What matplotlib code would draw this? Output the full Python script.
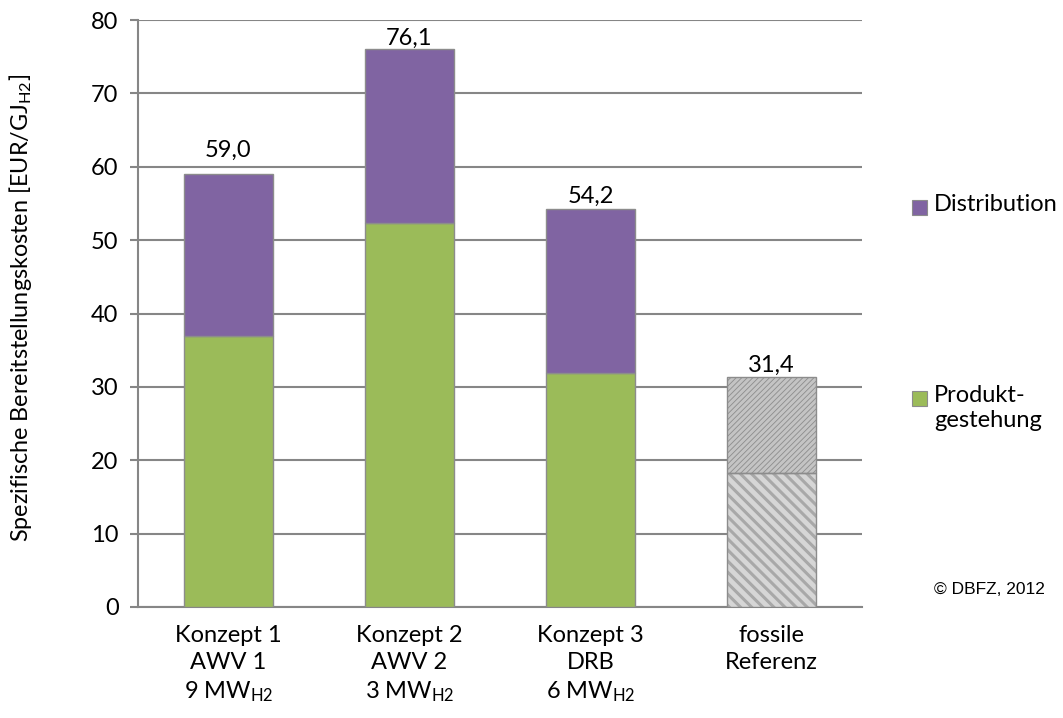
import matplotlib.pyplot as plt
from matplotlib.patches import Rectangle
import numpy as np

plt.rcParams["font.family"] = ["Lato", "DejaVu Sans"]
plt.rcParams["font.size"] = 17
plt.rcParams["hatch.linewidth"] = 2.2

categories = [
    "Konzept 1\nAWV 1\n9 MW$\\mathregular{_{H2}}$",
    "Konzept 2\nAWV 2\n3 MW$\\mathregular{_{H2}}$",
    "Konzept 3\nDRB\n6 MW$\\mathregular{_{H2}}$",
    "fossile\nReferenz",
]
produkt = [37.0, 52.4, 31.9, 18.2]
totals = [59.0, 76.1, 54.2, 31.4]
distribution = [t - p for t, p in zip(totals, produkt)]
total_labels = ["59,0", "76,1", "54,2", "31,4"]

PURPLE = "#8064A2"
GREEN = "#9BBB59"
EDGE = "#8C8C8C"
GRID = "#868686"

fig = plt.figure(figsize=(10.63, 7.18), dpi=100)
ax = fig.add_axes([0.1298, 0.1546, 0.6811, 0.8175])

x = np.arange(len(categories))
w = 0.49
n_real = 3

# real concepts
ax.bar(x[:n_real], produkt[:n_real], w, color=GREEN, edgecolor=EDGE, lw=1, zorder=3)
ax.bar(x[:n_real], distribution[:n_real], w, bottom=produkt[:n_real],
       color=PURPLE, edgecolor=EDGE, lw=1, zorder=3)

# fossil reference, hatched in grey
xf = x[n_real:]
ax.bar(xf, produkt[n_real:], w, color="#D6D6D6", lw=0, zorder=3)
ax.bar(xf, produkt[n_real:], w, color="none", edgecolor="#A8A8A8", hatch="\\\\\\",
       lw=0, zorder=3)
ax.bar(xf, distribution[n_real:], w, bottom=produkt[n_real:], color="#8E8E8E", lw=0, zorder=3)
ax.bar(xf, distribution[n_real:], w, bottom=produkt[n_real:], color="none",
       edgecolor="#C4C4C4", hatch="//////", lw=0, zorder=3)
ax.bar(xf, produkt[n_real:], w, fill=False, edgecolor=EDGE, lw=1, zorder=4)
ax.bar(xf, distribution[n_real:], w, bottom=produkt[n_real:], fill=False,
       edgecolor=EDGE, lw=1, zorder=4)

# value labels (Excel moved the first one up a little)
label_gap_px = [17, 4, 6, 5]
for xi, t, lab, gap in zip(x, totals, total_labels, label_gap_px):
    ax.annotate(lab, (xi, t), xytext=(0, gap), textcoords="offset pixels",
                ha="center", va="baseline", fontsize=17)

ax.set_xlim(-0.5, len(categories) - 0.5)
ax.set_ylim(0, 80)
ax.set_yticks(np.arange(0, 81, 10))
ax.set_xticks(x)
ax.set_xticklabels(categories, linespacing=1.35)
ax.tick_params(axis="x", length=0, pad=13)
ax.tick_params(axis="y", length=6, width=1.5, color=GRID, direction="out", pad=8)
ax.grid(axis="y", color=GRID, lw=1.5, zorder=0)
for s in ["top", "right"]:
    ax.spines[s].set_visible(False)
for s in ["left", "bottom"]:
    ax.spines[s].set_color(GRID)
    ax.spines[s].set_linewidth(1.5)

ax.set_ylabel("Spezifische Bereitstellungskosten [EUR/GJ$\\mathregular{_{H2}}$]",
              fontsize=16.8)
ax.yaxis.set_label_coords(-0.144, 0.509)

# legend on the right
def legend_item(y_px, color, text):
    fx = 912 / 1063
    fy = 1 - y_px / 718
    fig.add_artist(Rectangle((fx, fy - 7 / 718), 15 / 1063, 15 / 718,
                             transform=fig.transFigure, facecolor=color,
                             edgecolor=EDGE, lw=0.8))
    fig.text(fx + 22 / 1063, fy + 14 / 718, text, ha="left", va="top",
             fontsize=17, linespacing=1.25)

legend_item(208, PURPLE, "Distribution")
legend_item(399, GREEN, "Produkt-\ngestehung")

fig.text(1045 / 1063, 1 - 590 / 718, "© DBFZ, 2012", ha="right", va="center",
         fontsize=12.5, family="Liberation Sans")

fig.savefig("out.png", dpi=100, facecolor="white")
